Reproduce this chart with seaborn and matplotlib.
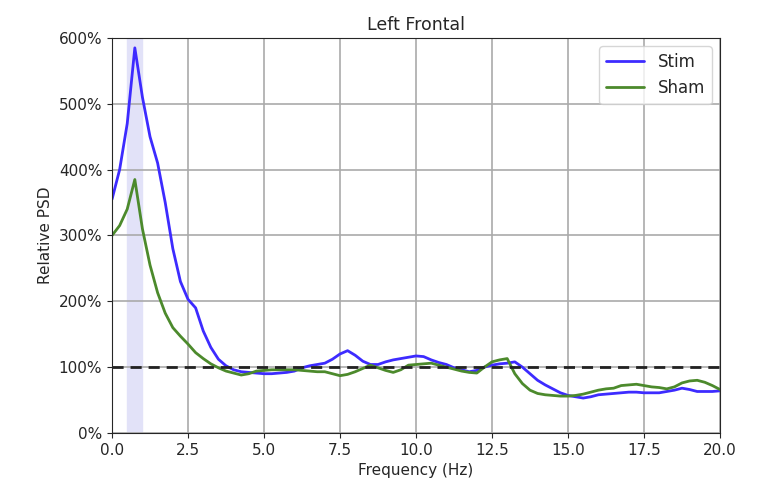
import numpy as np
import pandas as pd
import seaborn as sns
from matplotlib import pyplot as plt
from matplotlib.ticker import PercentFormatter, FormatStrFormatter

freq = np.arange(0, 20.01, 0.25)

stim = [355, 400, 470, 585, 510, 450, 410, 350, 280, 230, 203, 190, 155, 130, 112, 102,
        96, 93, 92, 91, 90, 90, 91, 92, 94, 99, 102, 104, 106, 112, 120, 125,
        118, 109, 104, 104, 108, 111, 113, 115, 117, 116, 111, 107, 104, 99, 96, 93,
        95, 100, 103, 105, 106, 108, 100, 90, 80, 73, 67, 61, 57, 55, 53, 55,
        58, 59, 60, 61, 62, 62, 61, 61, 61, 63, 65, 68, 66, 63, 63, 63, 64]

sham = [300, 315, 340, 385, 310, 255, 213, 182, 160, 147, 135, 122, 113, 105, 99, 94,
        91, 88, 90, 94, 95, 96, 96, 96, 96, 95, 94, 93, 93, 90, 87, 89,
        93, 98, 103, 99, 95, 92, 96, 103, 104, 105, 106, 103, 100, 97, 94, 92,
        91, 100, 108, 111, 113, 90, 75, 65, 60, 58, 57, 56, 56, 57, 59, 62,
        65, 67, 68, 72, 73, 74, 72, 70, 69, 67, 70, 76, 79, 80, 77, 72, 66]

stim_band = (0.5, 1.0)

df = pd.DataFrame({'freq': np.concatenate([freq, freq]),
                   'psd': stim + sham,
                   'cond': ['Stim'] * len(freq) + ['Sham'] * len(freq)})

sns.set_style('ticks')
fig = plt.figure(figsize=(7.59, 4.92), dpi=100)
ax = fig.add_axes([0.1476, 0.12, 0.801, 0.8028])

ax.axvspan(*stim_band, color='#e2e2f8', zorder=0)
sns.lineplot(data=df, x='freq', y='psd', hue='cond',
             palette={'Stim': '#3d2bff', 'Sham': '#4c8a2c'},
             linewidth=2, ax=ax)
ax.axhline(100, color='#222222', linestyle='--', linewidth=2, dashes=(4, 2.5))

ax.set_xlim(0, 20)
ax.set_ylim(0, 600)
ax.set_xticks(np.arange(0, 20.1, 2.5))
ax.set_yticks(np.arange(0, 601, 100))
ax.xaxis.set_major_formatter(FormatStrFormatter('%.1f'))
ax.yaxis.set_major_formatter(PercentFormatter(decimals=0))
ax.grid(True, color='#aaaaaa', linewidth=1.2)
ax.set_axisbelow(True)
ax.tick_params(labelsize=11, direction='out')
ax.set_xlabel('Frequency (Hz)', fontsize=11)
ax.set_ylabel('Relative PSD', fontsize=11)
ax.set_title('Left Frontal', fontsize=12.5)
ax.legend(loc='upper right', fontsize=12, frameon=True, handlelength=2.3)

fig.savefig('out.png', dpi=100)
